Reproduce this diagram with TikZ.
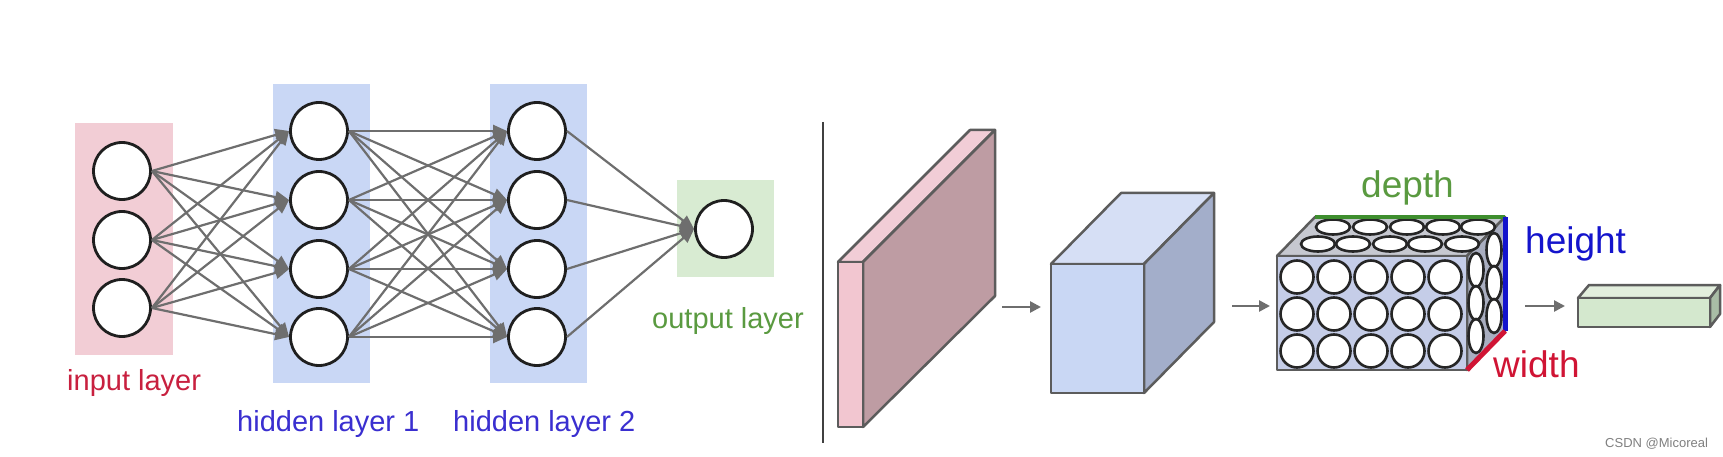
\documentclass[tikz,border=0pt]{standalone}
\usepackage{fontspec}
\setmainfont{Liberation Sans}
\usetikzlibrary{arrows.meta}
\definecolor{inpink}{HTML}{F2CDD5}
\definecolor{hidblue}{HTML}{C9D7F5}
\definecolor{outgreen}{HTML}{D8EBD2}
\definecolor{linegray}{HTML}{6E6E6E}
\definecolor{edgegray}{HTML}{5C5C5C}
\definecolor{txtred}{HTML}{C8203F}
\definecolor{txtblue}{HTML}{3A2FD0}
\definecolor{txtgreen}{HTML}{5A9A40}
\definecolor{slabfront}{HTML}{F2C6D0}
\definecolor{slabtop}{HTML}{F1CDD6}
\definecolor{slabside}{HTML}{BE9CA3}
\definecolor{cubefront}{HTML}{C9D7F4}
\definecolor{cubetop}{HTML}{D6DFF5}
\definecolor{cubeside}{HTML}{A3AECA}
\definecolor{gridfront}{HTML}{C5CDE8}
\definecolor{gridtop}{HTML}{C6C8D0}
\definecolor{gridside}{HTML}{A9AEC0}
\definecolor{barfront}{HTML}{D4E8CE}
\definecolor{bartop}{HTML}{E2EEDD}
\definecolor{barside}{HTML}{A9BDA6}
\definecolor{depthgreen}{HTML}{3E8E2E}
\definecolor{heightblue}{HTML}{1414CC}
\definecolor{widthred}{HTML}{D01434}
\begin{document}
\begin{tikzpicture}[x=1pt,y=-1pt,
  neuron/.style={circle,draw=black!88,line width=2.8pt,fill=white,minimum size=57pt,inner sep=0pt},
  conn/.style={draw=linegray,line width=2.2pt,-{Triangle[length=14pt,width=12pt]}},
  lbl/.style={anchor=base west,inner sep=0pt,font=\fontsize{29}{34}\selectfont},
  biglbl/.style={anchor=base west,inner sep=0pt,font=\fontsize{37}{42}\selectfont},
  face/.style={draw=edgegray,line width=2.5pt,line join=round},
  smallarrow/.style={draw=linegray,line width=2.5pt,-{Triangle[length=11pt,width=11pt]}},
  cell/.style={draw=black!85,line width=2.6pt,fill=white}]
\useasboundingbox (0,0) rectangle (1723,457);
\fill[white] (0,0) rectangle (1723,457);

% layer backgrounds
\fill[inpink] (75,123) rectangle (173,355);
\fill[hidblue] (273,84) rectangle (370,383);
\fill[hidblue] (490,84) rectangle (587,383);
\fill[outgreen] (677,180) rectangle (774,277);

% neurons
\foreach \y [count=\i] in {171,240,308} \node[neuron] (i\i) at (122,\y) {};
\foreach \y [count=\i] in {131,200,269,337} {
  \node[neuron] (a\i) at (319,\y) {};
  \node[neuron] (b\i) at (537,\y) {};
}
\node[neuron] (o) at (724,229) {};

% connections
\foreach \s in {1,2,3} \foreach \t in {1,2,3,4} \draw[conn] (i\s.east) -- (a\t.west);
\foreach \s in {1,2,3,4} \foreach \t in {1,2,3,4} \draw[conn] (a\s.east) -- (b\t.west);
\foreach \s in {1,2,3,4} \draw[conn] (b\s.east) -- (o.west);

% labels
\node[lbl,text=txtred] (lin) at (67,390) {input layer};
\node[lbl,text=txtblue] (lh1) at (237,431) {hidden layer 1};
\node[lbl,text=txtblue] (lh2) at (453,431) {hidden layer 2};
\node[lbl,text=txtgreen] (lout) at (652,328) {output layer};

% separator
\draw[draw=black!75,line width=2pt] (823,122) -- (823,443);

% pink slab
\filldraw[face,fill=slabtop] (838,262) -- (970,130) -- (995,130) -- (863,262) -- cycle;
\filldraw[face,fill=slabside] (863,262) -- (995,130) -- (995,296) -- (863,427) -- cycle;
\filldraw[face,fill=slabfront] (838,262) rectangle (863,427);

% arrow 1
\coordinate (ar1s) at (1002,307);
\coordinate (ar1e) at (1041,307);
\draw[smallarrow] (ar1s) -- (ar1e);

% blue cube
\filldraw[face,fill=cubetop] (1051,264) -- (1121,193) -- (1214,193) -- (1144,264) -- cycle;
\filldraw[face,fill=cubeside] (1144,264) -- (1214,193) -- (1214,322) -- (1144,393) -- cycle;
\filldraw[face,fill=cubefront] (1051,264) rectangle (1144,393);

% arrow 2
\coordinate (ar2s) at (1232,306);
\coordinate (ar2e) at (1270,306);
\draw[smallarrow] (ar2s) -- (ar2e);

% grid box
\filldraw[face,fill=gridtop] (1277,256) -- (1315,217) -- (1505,217) -- (1467,256) -- cycle;
\filldraw[face,fill=gridside] (1467,256) -- (1505,217) -- (1505,331) -- (1467,370) -- cycle;
\filldraw[face,fill=gridfront] (1277,256) rectangle (1467,370);
\foreach \x in {1333,1370,1407,1443,1478} \draw[cell] (\x,227) ellipse [x radius=17, y radius=7.5];
\foreach \x in {1318,1353,1390,1425,1462} \draw[cell] (\x,244) ellipse [x radius=17, y radius=7.5];
\foreach \y in {250,283,316} \draw[cell] (1494,\y) ellipse [x radius=7.5, y radius=17];
\foreach \y in {270,303,336} \draw[cell] (1476,\y) ellipse [x radius=7.5, y radius=17];
\foreach \x in {1297,1334,1371,1408,1445} \foreach \y in {277,314,351}
  \draw[cell] (\x,\y) circle [radius=16.5];
\coordinate (gbl) at (1315,217);
\coordinate (gbr) at (1505,217);
\coordinate (gbb) at (1505,331);
\coordinate (gfb) at (1467,370);
\draw[depthgreen,line width=4pt] (gbl) -- (gbr);
\draw[heightblue,line width=5pt] (gbr) -- (gbb);
\draw[widthred,line width=5pt] (gbb) -- (gfb);

\node[biglbl,text=txtgreen] (ldepth) at (1361,197) {depth};
\node[biglbl,text=heightblue] (lheight) at (1525,253) {height};
\node[biglbl,text=widthred] (lwidth) at (1493,377) {width};

% arrow 3
\coordinate (ar3s) at (1525,306);
\coordinate (ar3e) at (1565,306);
\draw[smallarrow] (ar3s) -- (ar3e);

% green bar
\filldraw[face,fill=bartop] (1578,298) -- (1589,285) -- (1720,285) -- (1710,298) -- cycle;
\filldraw[face,fill=barside] (1710,298) -- (1720,285) -- (1720,314) -- (1710,327) -- cycle;
\filldraw[face,fill=barfront] (1578,298) rectangle (1710,327);

% watermark
\node[anchor=base west,inner sep=0pt,text=black!50,font=\fontsize{13}{15}\selectfont] (wm) at (1605,447) {CSDN @Micoreal};
\end{tikzpicture}
\end{document}
